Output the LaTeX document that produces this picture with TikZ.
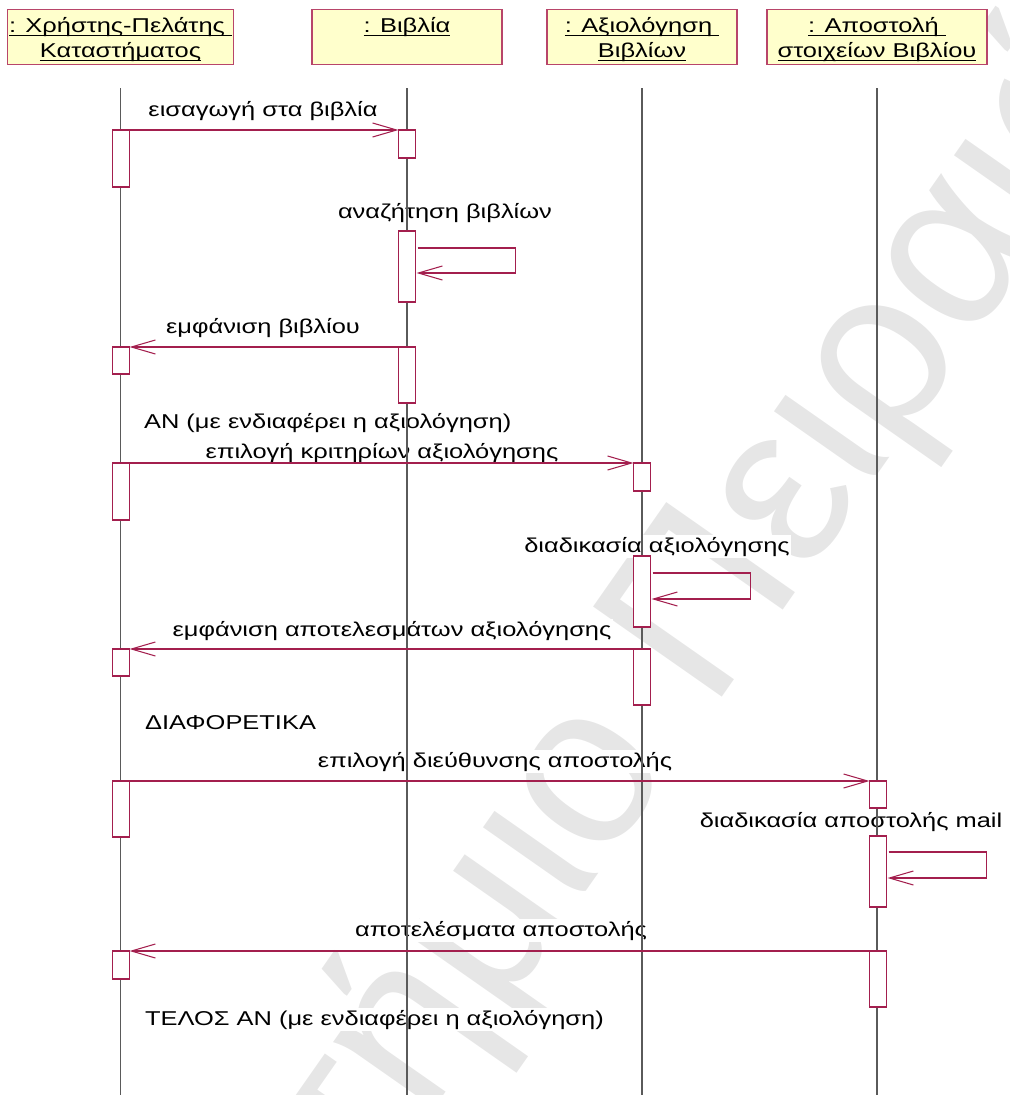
\documentclass[tikz,border=0pt]{standalone}
\usepackage{fontspec}
\setmainfont{Liberation Sans}[FakeStretch=1.27]
\newfontfamily\markfont{Liberation Sans}
\usetikzlibrary{arrows.meta, calc, backgrounds}
\definecolor{MsgRed}{HTML}{A31F4E}
\definecolor{HeadFill}{HTML}{FFFFCC}
\definecolor{HeadLine}{HTML}{B8456A}
\definecolor{LifeGray}{HTML}{5A5A5A}
\definecolor{MarkGray}{HTML}{E6E6E6}
\newcommand\ulname[1]{\underline{\smash{#1}}}
\newcommand\headtop{\rule{0pt}{13.1pt}}
\newcommand\headbot{\rule[-4pt]{0pt}{4pt}}

\begin{document}
\begin{tikzpicture}[
  x=0.02cm, y=-0.02cm,
  font=\fontsize{11.4}{14.2}\selectfont,
  head/.style={rectangle, draw=HeadLine, fill=HeadFill, line width=0.8pt,
               anchor=north, minimum height=1.1cm, align=center,
               inner xsep=1pt, inner ysep=0pt},
  bar/.style={rectangle, draw=MsgRed, fill=white, line width=0.8pt,
              minimum width=0.34cm, anchor=north, inner sep=0pt, outer sep=0pt},
  life/.style={LifeGray, line width=0.6pt},
  msg/.style={MsgRed, line width=0.6pt, -{Straight Barb[length=0.48cm, width=0.28cm]}},
  lbl/.style={fill=white, inner sep=1pt, anchor=base},
  cond/.style={fill=white, inner sep=1pt, anchor=base west},
]
\useasboundingbox (0,0) rectangle (1010,1095);
\coordinate (bottom) at (0,1095);

% repository mark behind everything
\begin{scope}[on background layer]
  \node[text=MarkGray, anchor=base west, rotate=55, inner sep=0pt,
        font=\markfont\fontsize{130}{130}\selectfont] (mark) at (712,712)
    {\llap{Πανεπιστήμιο\ }Πειραιώς};
\end{scope}

% objects
\node[head, minimum width=4.46cm] (hUser) at (120.5,9)
  {\headtop\ulname{: Χρήστης-Πελάτης }\\\ulname{Καταστήματος}\headbot};
\node[head, minimum width=3.8cm] (hBooks) at (407,9)
  {\headtop\ulname{: Βιβλία}\\\headbot};
\node[head, minimum width=3.8cm] (hEval) at (642,9)
  {\headtop\ulname{: Αξιολόγηση }\\\ulname{Βιβλίων}\headbot};
\node[head, minimum width=4.4cm] (hSend) at (877,9)
  {\headtop\ulname{: Αποστολή }\\\ulname{στοιχείων Βιβλίου}\headbot};

% lifelines
\foreach \h in {hUser,hBooks,hEval,hSend}
  \draw[life] ($(\h.south)+(0,23)$) -- (\h.south |- bottom);

% activations
\node[bar, minimum height=1.14cm] (u1) at (121,130) {};
\node[bar, minimum height=0.54cm] (u2) at (121,347) {};
\node[bar, minimum height=1.14cm] (u3) at (121,463) {};
\node[bar, minimum height=0.54cm] (u4) at (121,649) {};
\node[bar, minimum height=1.12cm] (u5) at (121,781) {};
\node[bar, minimum height=0.56cm] (u6) at (121,951) {};

\node[bar, minimum height=0.56cm] (b1) at (407,130) {};
\node[bar, minimum height=1.42cm] (b2) at (407,231) {};
\node[bar, minimum height=1.12cm] (b3) at (407,347) {};

\node[bar, minimum height=0.56cm] (e1) at (642,463) {};
\node[bar, minimum height=1.42cm] (e2) at (642,556) {};
\node[bar, minimum height=1.12cm] (e3) at (642,649) {};

\node[bar, minimum height=0.54cm] (s1) at (878,781) {};
\node[bar, minimum height=1.42cm] (s2) at (878,836) {};
\node[bar, minimum height=1.12cm] (s3) at (878,951) {};

% messages
\draw[msg] (u1.north east) -- (b1.north west);
\draw[msg] ($(b2.north east)+(2,17)$) -- ++(98,0) -- ++(0,25)
  -- ($(b2.north east)+(1,42)$);
\draw[msg] (b3.north west) -- (u2.north east);
\draw[msg] (u3.north east) -- (e1.north west);
\draw[msg] ($(e2.north east)+(2,17)$) -- ++(98,0) -- ++(0,26)
  -- ($(e2.north east)+(1,43)$);
\draw[msg] (e3.north west) -- (u4.north east);
\draw[msg] (u5.north east) -- (s1.north west);
\draw[msg] ($(s2.north east)+(2,16)$) -- ++(98,0) -- ++(0,26)
  -- ($(s2.north east)+(1,42)$);
\draw[msg] (s3.north west) -- (u6.north east);

% message texts
\begin{scope}[on background layer]
  \node[lbl] (tIns) at (263,116) {εισαγωγή στα βιβλία};
  \node[lbl] (tSearch) at (445,218) {αναζήτηση βιβλίων};
  \node[lbl] (tShow) at (263,333) {εμφάνιση βιβλίου};
  \node[cond] (tIf) at (142,428) {ΑΝ (με ενδιαφέρει η αξιολόγηση)};
  \node[lbl] (tCrit) at (382,458) {επιλογή κριτηρίων αξιολόγησης};
  \node[lbl] (tEval) at (657,552) {διαδικασία αξιολόγησης};
  \node[lbl] (tRes) at (392,636) {εμφάνιση αποτελεσμάτων αξιολόγησης};
  \node[cond] (tElse) at (143,729) {ΔΙΑΦΟΡΕΤΙΚΑ};
  \node[lbl] (tAddr) at (495,767) {επιλογή διεύθυνσης αποστολής};
  \node[lbl] (tMail) at (851,827) {διαδικασία αποστολής mail};
  \node[lbl] (tSent) at (501,936) {αποτελέσματα αποστολής};
  \node[cond] (tEnd) at (143,1025) {ΤΕΛΟΣ ΑΝ (με ενδιαφέρει η αξιολόγηση)};
\end{scope}

\end{tikzpicture}
\end{document}
